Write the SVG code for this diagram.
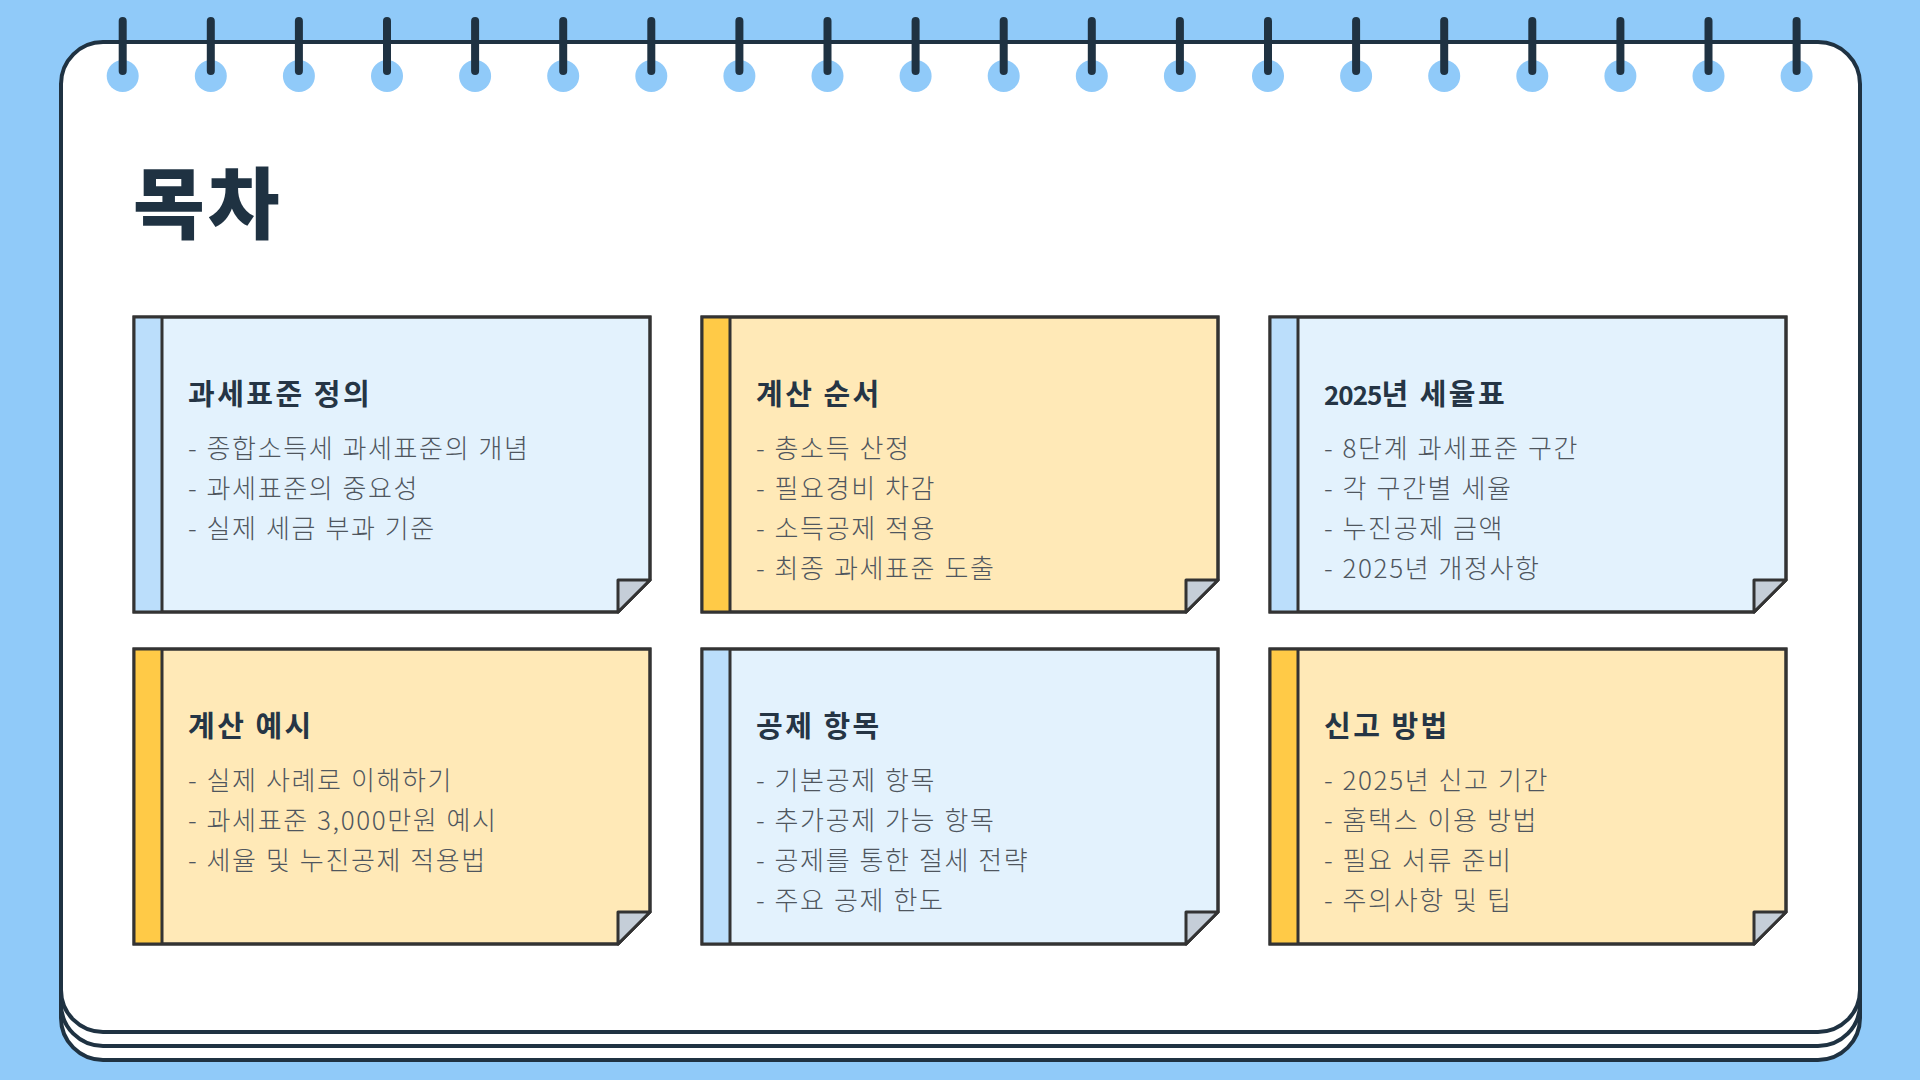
<svg xmlns="http://www.w3.org/2000/svg" width="1920" height="1080" viewBox="0 0 1920 1080">
<defs>
<style>
.bg{fill:#90CAF9}
.page{fill:#FFFFFF;stroke:#1F3242;stroke-width:4}
.ring{stroke:#1F3242;stroke-width:8;stroke-linecap:round}
.hole{fill:#90CAF9}
.card{stroke:#333333;stroke-width:3;stroke-linejoin:miter}
.blue .body{fill:#E3F2FD}
.blue .stripe{fill:#BBDEFB}
.yellow .body{fill:#FFE9B7}
.yellow .stripe{fill:#FFCA47}
.fold{fill:#C5CED8;stroke:#333333;stroke-width:3;stroke-linejoin:round}
.sep{stroke:#333333;stroke-width:3}
.h1{font-family:"Noto Sans CJK KR","Noto Sans",sans-serif;font-size:78px;font-weight:900;fill:#1F3242;letter-spacing:3px}
.ct{font-family:"Noto Sans CJK KR","Noto Sans",sans-serif;font-size:29px;font-weight:700;fill:#253545;letter-spacing:2.5px}
.num{font-size:26px;letter-spacing:-1px}
.cb{font-family:"Noto Sans CJK KR","Noto Sans",sans-serif;font-size:26px;font-weight:300;fill:#4F565E;letter-spacing:1.6px;word-spacing:1px}
</style>
<g id="ringproto">
<circle class="hole" cx="0" cy="76" r="16"/>
<line class="ring" x1="0" y1="21" x2="0" y2="71"/>
</g>
</defs>
<rect class="bg" x="0" y="0" width="1920" height="1080"/>
<g id="notebook">
<rect class="page" x="61" y="70" width="1799" height="990" rx="42"/>
<rect class="page" x="61" y="56" width="1799" height="990" rx="42"/>
<rect class="page" x="61" y="42" width="1799" height="990" rx="42"/>
</g>
<g id="rings">
<use href="#ringproto" x="122.7"/>
<use href="#ringproto" x="210.8"/>
<use href="#ringproto" x="298.9"/>
<use href="#ringproto" x="387.0"/>
<use href="#ringproto" x="475.1"/>
<use href="#ringproto" x="563.2"/>
<use href="#ringproto" x="651.3"/>
<use href="#ringproto" x="739.4"/>
<use href="#ringproto" x="827.5"/>
<use href="#ringproto" x="915.6"/>
<use href="#ringproto" x="1003.7"/>
<use href="#ringproto" x="1091.8"/>
<use href="#ringproto" x="1179.9"/>
<use href="#ringproto" x="1268.0"/>
<use href="#ringproto" x="1356.1"/>
<use href="#ringproto" x="1444.2"/>
<use href="#ringproto" x="1532.3"/>
<use href="#ringproto" x="1620.4"/>
<use href="#ringproto" x="1708.5"/>
<use href="#ringproto" x="1796.6"/>
</g>
<text id="title" class="h1" x="133" y="233">목차</text>
<g id="connectors"/>

<g id="card1" class="blue">
<path class="card body" d="M134,317 H650 V580 L618,612 H134 Z"/>
<rect class="stripe" x="134" y="317" width="28" height="295"/>
<line class="sep" x1="162" y1="317" x2="162" y2="612"/>
<path class="card" fill="none" d="M134,317 H650 V580 L618,612 H134 Z"/>
<path class="fold" d="M618,580 H650 L618,612 Z"/>
<text class="ct" x="188" y="405">과세표준 정의</text>
<text class="cb" x="188" y="458">- 종합소득세 과세표준의 개념</text>
<text class="cb" x="188" y="498">- 과세표준의 중요성</text>
<text class="cb" x="188" y="538">- 실제 세금 부과 기준</text>
</g>

<g id="card2" class="yellow">
<path class="card body" d="M702,317 H1218 V580 L1186,612 H702 Z"/>
<rect class="stripe" x="702" y="317" width="28" height="295"/>
<line class="sep" x1="730" y1="317" x2="730" y2="612"/>
<path class="card" fill="none" d="M702,317 H1218 V580 L1186,612 H702 Z"/>
<path class="fold" d="M1186,580 H1218 L1186,612 Z"/>
<text class="ct" x="756" y="405">계산 순서</text>
<text class="cb" x="756" y="458">- 총소득 산정</text>
<text class="cb" x="756" y="498">- 필요경비 차감</text>
<text class="cb" x="756" y="538">- 소득공제 적용</text>
<text class="cb" x="756" y="578">- 최종 과세표준 도출</text>
</g>

<g id="card3" class="blue">
<path class="card body" d="M1270,317 H1786 V580 L1754,612 H1270 Z"/>
<rect class="stripe" x="1270" y="317" width="28" height="295"/>
<line class="sep" x1="1298" y1="317" x2="1298" y2="612"/>
<path class="card" fill="none" d="M1270,317 H1786 V580 L1754,612 H1270 Z"/>
<path class="fold" d="M1754,580 H1786 L1754,612 Z"/>
<text class="ct" x="1324" y="405"><tspan class="num">2025</tspan>년 세율표</text>
<text class="cb" x="1324" y="458">- 8단계 과세표준 구간</text>
<text class="cb" x="1324" y="498">- 각 구간별 세율</text>
<text class="cb" x="1324" y="538">- 누진공제 금액</text>
<text class="cb" x="1324" y="578">- 2025년 개정사항</text>
</g>

<g id="card4" class="yellow">
<path class="card body" d="M134,649 H650 V912 L618,944 H134 Z"/>
<rect class="stripe" x="134" y="649" width="28" height="295"/>
<line class="sep" x1="162" y1="649" x2="162" y2="944"/>
<path class="card" fill="none" d="M134,649 H650 V912 L618,944 H134 Z"/>
<path class="fold" d="M618,912 H650 L618,944 Z"/>
<text class="ct" x="188" y="737">계산 예시</text>
<text class="cb" x="188" y="790">- 실제 사례로 이해하기</text>
<text class="cb" x="188" y="830">- 과세표준 3,000만원 예시</text>
<text class="cb" x="188" y="870">- 세율 및 누진공제 적용법</text>
</g>

<g id="card5" class="blue">
<path class="card body" d="M702,649 H1218 V912 L1186,944 H702 Z"/>
<rect class="stripe" x="702" y="649" width="28" height="295"/>
<line class="sep" x1="730" y1="649" x2="730" y2="944"/>
<path class="card" fill="none" d="M702,649 H1218 V912 L1186,944 H702 Z"/>
<path class="fold" d="M1186,912 H1218 L1186,944 Z"/>
<text class="ct" x="756" y="737">공제 항목</text>
<text class="cb" x="756" y="790">- 기본공제 항목</text>
<text class="cb" x="756" y="830">- 추가공제 가능 항목</text>
<text class="cb" x="756" y="870">- 공제를 통한 절세 전략</text>
<text class="cb" x="756" y="910">- 주요 공제 한도</text>
</g>

<g id="card6" class="yellow">
<path class="card body" d="M1270,649 H1786 V912 L1754,944 H1270 Z"/>
<rect class="stripe" x="1270" y="649" width="28" height="295"/>
<line class="sep" x1="1298" y1="649" x2="1298" y2="944"/>
<path class="card" fill="none" d="M1270,649 H1786 V912 L1754,944 H1270 Z"/>
<path class="fold" d="M1754,912 H1786 L1754,944 Z"/>
<text class="ct" x="1324" y="737">신고 방법</text>
<text class="cb" x="1324" y="790">- 2025년 신고 기간</text>
<text class="cb" x="1324" y="830">- 홈택스 이용 방법</text>
<text class="cb" x="1324" y="870">- 필요 서류 준비</text>
<text class="cb" x="1324" y="910">- 주의사항 및 팁</text>
</g>
</svg>
